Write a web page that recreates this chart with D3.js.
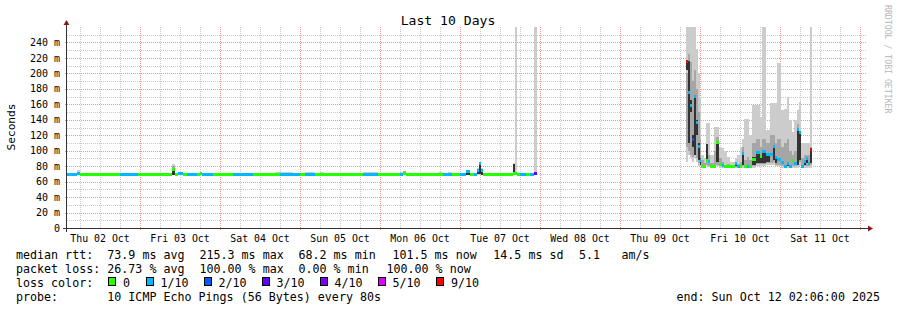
<!DOCTYPE html>
<html><head><meta charset="utf-8">
<script src="https://cdn.jsdelivr.net/npm/d3@7/dist/d3.min.js"></script>
<style>
html,body{margin:0;padding:0;background:#fff;}
svg{display:block;}
text{font-family:"DejaVu Sans Mono",monospace;fill:#000;}
</style></head><body>
<svg id="chart" width="897" height="310"></svg>
<script>
// ---------- DATA ----------
const startTime = new Date(2025, 9, 2, 2, 6, 0);
const endTime   = new Date(2025, 9, 12, 2, 6, 0);

// sample start, hours after startTime (each sample lasts until the next one)
const sampleHours = [
  0,3,3.9,5.7,9.9,15.9,17.4,21.3,22.2,23.4,
  26.7,27.6,31.5,32.4,33.3,34.8,36,39,39.9,40.5,
  43.8,49.8,51.9,55.8,62.4,63.9,67.8,69.9,71.4,74.4,
  75.9,77.1,81.9,83.4,88.8,93.3,95.7,99.9,100.8,101.7,
  103.8,105.3,111.3,112.8,114.3,115.5,117.9,119.7,120.9,122.1,
  123,123.6,124.2,124.8,128.4,129.9,133.8,134.4,135,135.9,
  137.7,138.9,140.1,141,
  185.7,186.3,186.9,187.5,188.1,188.7,189.3,189.75,190.2,191.1,
  191.7,192.3,192.9,194.1,194.7,195.6,196.5,197.1,198,198.9,
  200.4,201,201.9,202.5,203.1,204,204.6,205.5,206.7,207.9,
  208.5,209.7,210.9,211.8,212.4,213,214.2,215.1,216,216.6,
  217.5,218.1,219,219.6,220.2,221.1,221.7,222.3,222.9,223.35
];
// median rtt (ms)
const medianMs = [
  69,70,69,69,69,69,69,69,69,69,
  69,69,76,69,70,69,69,69,70,69,
  69,69,69,69,69,69,69,69,69,69,
  69,69,69,69,69,69,69,69,70,69,
  69,69,69,69,69,69,69,73,69,69,
  75,84,74,69,69,69,70,70,69,69,
  69,69,71,null,
  216,175,158,115,170,136,106,87,80,80,
  87,86,80,80,110,82,81,79,79,79,
  84,79,80,97,79,80,79,88,98,92,
  99,95,95,105,91,88,85,80,84,80,
  87,84,127,124,79,86,90,84,101,null
];
// lost pings out of 10
const lossCount = [
  1,1,0,0,0,1,1,0,0,0,
  0,0,0,0,1,0,1,0,0,1,
  0,1,1,0,0,1,1,0,1,0,
  0,0,0,0,1,0,0,1,0,0,
  0,0,0,1,1,0,1,1,0,1,
  1,1,1,0,0,0,0,0,0,1,
  0,1,3,null,
  9,1,1,2,1,1,1,1,0,0,
  0,1,0,0,0,0,1,0,0,0,
  1,1,0,1,0,1,0,0,1,0,
  1,1,1,1,1,1,1,1,1,1,
  0,1,1,1,1,1,1,1,9,null
];
// smoke: lowest ping, middle band, dense band, highest ping (ms)
const smokeMin = [
  68,68,68,68,68,68,68,68,68,68,
  68,68,68,68,68,68,68,68,68,68,
  68,68,68,68,68,68,68,68,68,68,
  68,68,68,68,68,68,68,68,68,68,
  68,68,68,68,68,68,68,68,68,68,
  68,68,68,68,68,68,68,68,68,68,
  68,68,68,null,
  85,95,90,85,90,85,80,80,78,78,
  80,79,78,78,80,78,78,78,78,78,
  78,78,78,78,77,77,77,78,80,80,
  80,82,82,82,80,80,78,78,78,78,
  78,78,78,80,78,78,78,78,78,null
];
const smokeMidLo = [
  null,null,null,null,null,null,null,null,null,null,
  null,null,69,null,null,null,null,null,null,null,
  null,null,null,null,null,null,null,null,null,null,
  null,null,null,null,null,null,null,null,69,null,
  null,null,null,null,null,null,null,null,null,null,
  null,null,null,null,null,null,null,null,null,null,
  null,null,69,null,
  105,100,95,92,95,90,84,81,79,79,
  82,80,79,80,82,80,79,78,78,78,
  79,78,78,80,78,78,78,80,83,83,
  83,84,84,85,82,82,80,80,80,79,
  80,80,82,85,79,80,80,80,82,null
];
const smokeMidHi = [
  null,null,null,null,null,null,null,null,null,null,
  null,null,80,null,null,null,null,null,null,null,
  null,null,null,null,null,null,null,null,null,null,
  null,null,null,null,null,null,null,null,74,null,
  null,null,null,null,null,null,null,null,null,null,
  null,null,null,null,null,null,null,null,null,null,
  null,null,72,null,
  200,225,215,190,205,180,150,115,88,84,
  105,95,84,100,118,90,86,81,83,80,
  86,83,86,105,88,92,88,110,115,105,
  115,110,120,120,110,115,105,110,115,100,
  95,100,135,125,90,95,95,95,105,null
];
const smokeDarkLo = [
  null,69,null,null,null,null,null,null,null,null,
  null,null,69,null,null,null,null,null,69,null,
  null,null,null,null,null,null,null,null,null,null,
  null,null,null,null,null,null,null,null,null,null,
  null,null,null,null,null,null,null,69,null,null,
  70,70,69,null,null,null,69,null,null,null,
  null,null,null,null,
  205,110,150,105,95,120,88,82,null,null,
  85,null,null,null,85,null,null,null,null,null,
  80,null,null,82,null,null,null,82,84,84,
  84,86,null,88,84,null,null,null,80,null,
  null,null,82,88,null,82,84,null,84,null
];
const smokeDarkHi = [
  null,73,null,null,null,null,null,null,null,null,
  null,null,76,null,null,null,null,null,72,null,
  null,null,null,null,null,null,null,null,null,null,
  null,null,null,null,null,null,null,null,null,null,
  null,null,null,null,null,null,null,73,null,null,
  76,84,76,null,null,null,83,null,null,null,
  null,null,null,null,
  216,216,165,120,170,140,110,90,null,null,
  109,null,null,null,110,null,null,null,null,null,
  84,null,null,97,null,null,null,92,98,92,
  99,95,null,105,91,null,null,null,84,null,
  null,null,127,124,null,86,90,null,101,null
];
const smokeMax = [
  70,75,71,70,70,71,70,70,71,70,
  71,70,83,70,72,70,70,70,72,70,
  70,71,70,70,72,72,70,70,72,70,
  72,70,70,70,72,70,70,72,74,70,
  70,70,72,70,72,70,71,74,71,70,
  78,86,77,70,70,70,84,262,70,70,
  70,70,262,null,
  262,262,262,262,262,231,200,170,95,90,
  136,136,95,131,131,105,103,100,92,85,
  90,95,105,115,141,141,120,159,159,144,
  262,127,162,162,162,214,152,154,170,140,
  124,140,153,163,110,110,110,110,262,null
];

const yTicks = [0,20,40,60,80,100,120,140,160,180,200,220,240];
const yTickLabels = ["0","20 m","40 m","60 m","80 m","100 m","120 m","140 m","160 m","180 m","200 m","220 m","240 m"];
const dayTickDays = [2,3,4,5,6,7,8,9,10,11];
const dayTickLabels = ["Thu 02 Oct","Fri 03 Oct","Sat 04 Oct","Sun 05 Oct","Mon 06 Oct","Tue 07 Oct","Wed 08 Oct","Thu 09 Oct","Fri 10 Oct","Sat 11 Oct"];

const lossLevels = [0,1,2,3,4,5,9];
const lossLabels = ["0","1/10","2/10","3/10","4/10","5/10","9/10"];
const lossColors = ["#26ff00","#00b8ff","#0059ff","#5e00ff","#7e00ff","#dd00ff","#ff0000"];

const rttLegend = [["median rtt:",16],["73.9 ms avg",107.3],["215.3 ms max",199.5],["68.2 ms min",298.5],["101.5 ms now",392.5],["14.5 ms sd",493.3],["5.1",579],["am/s",621.5]];
const lossLegend = [["packet loss:",16],["26.73 % avg",107.3],["100.00 % max",199.5],["0.00 % min",298.5],["100.00 % now",386.5]];
const probeText = "10 ICMP Echo Pings (56 Bytes) every 80s";
const endText = "end: Sun Oct 12 02:06:00 2025";

// ---------- DRAW ----------
const svg = d3.select("#chart");
const L = 67, R = 867, T = 27, B = 228;
const x = d3.scaleTime().domain([startTime, endTime]).range([L, R]);
const y = d3.scaleLinear().domain([0, 260]).range([B, T]);
const hd = h => new Date(startTime.getTime() + h * 3600e3);

svg.append("rect").attr("width", 897).attr("height", 310).attr("fill", "#fff");

// grid
const g = svg.append("g").attr("shape-rendering", "crispEdges");
const minorX = d3.timeHour.every(6).range(startTime, endTime).filter(d => d.getHours() !== 0);
const majorX = d3.timeDay.range(startTime, endTime);
g.selectAll(".mx").data(minorX).join("line")
  .attr("x1", d => Math.round(x(d)) + 0.5).attr("x2", d => Math.round(x(d)) + 0.5)
  .attr("y1", T).attr("y2", B).attr("stroke", "#c8c8c8").attr("stroke-dasharray", "1,1");
const minorY = d3.range(10, 260, 20);
g.selectAll(".my").data(minorY).join("line")
  .attr("x1", L).attr("x2", R)
  .attr("y1", d => Math.round(y(d)) + 0.5).attr("y2", d => Math.round(y(d)) + 0.5)
  .attr("stroke", "#c8c8c8").attr("stroke-dasharray", "1,1");
g.selectAll(".Mx").data(majorX).join("line")
  .attr("x1", d => Math.round(x(d)) + 0.5).attr("x2", d => Math.round(x(d)) + 0.5)
  .attr("y1", T).attr("y2", B + 2).attr("stroke", "#e89a9a").attr("stroke-dasharray", "1,1");
g.selectAll(".My").data(yTicks.slice(1)).join("line")
  .attr("x1", L - 2).attr("x2", R)
  .attr("y1", d => Math.round(y(d)) + 0.5).attr("y2", d => Math.round(y(d)) + 0.5)
  .attr("stroke", "#e89a9a").attr("stroke-dasharray", "1,1");

// data
svg.append("clipPath").attr("id", "pc").append("rect")
  .attr("x", L).attr("y", T).attr("width", R - L).attr("height", B - T);
const dg = svg.append("g").attr("clip-path", "url(#pc)").attr("shape-rendering", "crispEdges");
const samples = [];
for (let i = 0; i < sampleHours.length - 1; i++) {
  if (medianMs[i] == null) continue;
  samples.push({
    t0: hd(sampleHours[i]), t1: hd(sampleHours[i + 1]),
    med: medianMs[i], loss: lossCount[i],
    min: smokeMin[i], max: smokeMax[i],
    mlo: smokeMidLo[i], mhi: smokeMidHi[i],
    dlo: smokeDarkLo[i], dhi: smokeDarkHi[i]
  });
}
const xs = d => Math.round(x(d.t0));
const xw = d => Math.max(1, Math.round(x(d.t1)) - Math.round(x(d.t0)));
function band(lo, hi, col) {
  dg.append("g").selectAll("rect").data(samples.filter(d => d[lo] != null && d[hi] != null))
    .join("rect").attr("x", xs).attr("width", xw)
    .attr("y", d => y(d[hi])).attr("height", d => Math.max(0, y(d[lo]) - y(d[hi])))
    .attr("fill", col);
}
band("min", "max", "#cccccc");
band("mlo", "mhi", "#a6a6a6");
band("dlo", "dhi", "#333333");
const lossColor = n => { let c = lossColors[0]; lossLevels.forEach((lv, i) => { if (n >= lv) c = lossColors[i]; }); return c; };
dg.append("g").selectAll("rect").data(samples).join("rect")
  .attr("x", xs).attr("width", xw)
  .attr("y", d => y(d.med) - 1.5).attr("height", 3)
  .attr("fill", d => lossColor(d.loss));

// axes
const ax = svg.append("g").attr("shape-rendering", "crispEdges");
ax.append("line").attr("x1", L - 4).attr("x2", R + 2).attr("y1", B + 0.5).attr("y2", B + 0.5).attr("stroke", "#333");
ax.append("line").attr("x1", L - 0.5).attr("x2", L - 0.5).attr("y1", B + 4).attr("y2", T - 3).attr("stroke", "#333");
svg.append("path").attr("d", `M${L - 3.5},${T - 2} L${L + 2.5},${T - 2} L${L - 0.5},${T - 7} Z`).attr("fill", "#8b1a1a");
svg.append("path").attr("d", `M${R + 1},${B - 2.5} L${R + 1},${B + 3.5} L${R + 6},${B + 0.5} Z`).attr("fill", "#8b1a1a");

// y tick labels
svg.append("g").selectAll("text").data(yTicks).join("text")
  .attr("x", 60).attr("y", d => y(d)).attr("dy", "0.36em")
  .attr("text-anchor", "end").attr("font-size", "10px")
  .text((d, i) => yTickLabels[i]);
// x tick labels (noon of each day)
svg.append("g").selectAll("text").data(dayTickDays).join("text")
  .attr("x", d => x(new Date(2025, 9, d, 12, 0, 0))).attr("y", 241.5)
  .attr("text-anchor", "middle").attr("font-size", "9.9px")
  .text((d, i) => dayTickLabels[i]);

// title / axis title / watermark
svg.append("text").attr("x", 448).attr("y", 24.5).attr("text-anchor", "middle")
  .attr("font-size", "13.1px").text("Last 10 Days");
svg.append("text").attr("transform", "translate(14.5,127) rotate(-90)").attr("text-anchor", "middle")
  .attr("font-size", "11.2px").text("Seconds");
svg.append("text").attr("transform", "translate(884.5,5) rotate(90)")
  .attr("font-size", "8.2px").style("fill", "#b8b8b8").text("RRDTOOL / TOBI OETIKER");

// legend
const lg = svg.append("g").attr("font-size", "11.66px").style("white-space", "pre");
rttLegend.forEach(([t, px]) => lg.append("text").attr("x", px).attr("y", 258.5).text(t));
lossLegend.forEach(([t, px]) => lg.append("text").attr("x", px).attr("y", 272.5).text(t));
lg.append("text").attr("x", 16).attr("y", 286.5).text("loss color:");
const sqX = [108, 145.5, 203.5, 261.5, 319.5, 377.5, 436];
lossLabels.forEach((t, i) => {
  lg.append("rect").attr("x", sqX[i] + 0.5).attr("y", 277.5).attr("width", 7).attr("height", 8)
    .attr("fill", lossColors[i]).attr("stroke", "#000").attr("shape-rendering", "crispEdges");
  lg.append("text").attr("x", sqX[i] + 15).attr("y", 286.5).text(t);
});
lg.append("text").attr("x", 16).attr("y", 300.5).text("probe:");
lg.append("text").attr("x", 107.3).attr("y", 300.5).text(probeText);
lg.append("text").attr("x", 880).attr("y", 300.5).attr("text-anchor", "end").text(endText);
</script>
</body></html>
